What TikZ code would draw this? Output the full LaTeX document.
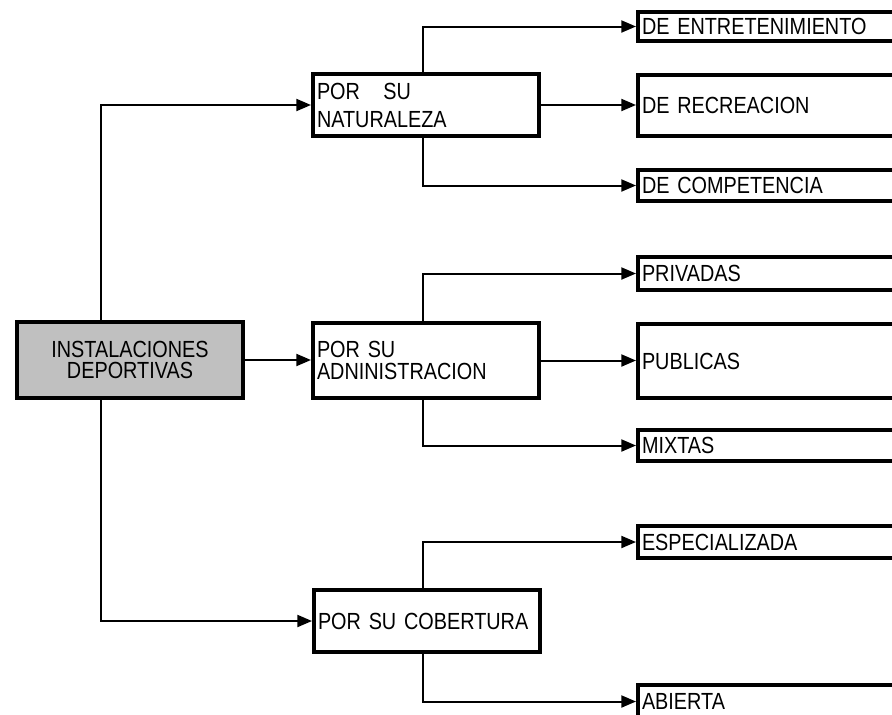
\documentclass[tikz,border=0pt]{standalone}
\usepackage{fontspec}
\setmainfont[FakeStretch=0.85]{Liberation Sans}
\usetikzlibrary{arrows.meta}
\def\pxu{0.75pt}
\tikzset{
  conn/.style={line width=1.5pt, -{Triangle[length=11pt,width=9pt]}},
  boxbase/.style={draw, line width=3pt, inner ysep=0pt, font=\fontsize{17.5}{16.5}\selectfont},
  rootbox/.style={boxbase, fill={rgb,255:red,192;green,192;blue,192}, align=center,
     minimum width={226*\pxu}, minimum height={76*\pxu}, font=\fontsize{17.5}{15.75}\selectfont},
  midbox/.style={boxbase, fill=white, inner xsep={4*\pxu}, text width={218*\pxu}, align=left,
     minimum width={226*\pxu}},
  leafbox/.style={boxbase, fill=white, inner xsep={4*\pxu}, text width={256*\pxu}, align=left,
     minimum width={264*\pxu}, anchor=west},
}
\begin{document}
\begin{tikzpicture}[x=0.75pt, y=-0.75pt]
\useasboundingbox (0,0) rectangle (892,714);
\clip (0,0) rectangle (892,714);

% nodes
\node[rootbox] (root) at (130,360) {INSTALACIONES\\DEPORTIVAS};

\node[midbox, minimum height={62*\pxu}, font=\fontsize{17.5}{21}\selectfont] (nat) at (426,105) {POR \ \ SU\\NATURALEZA};
\node[midbox, minimum height={75*\pxu}] (adm) at (426,360.5) {POR SU\\ADNINISTRACION};
\node[midbox, minimum height={62*\pxu}] (cob) at (427,621) {POR SU COBERTURA};

\node[leafbox, minimum height={29*\pxu}] (ent) at (636,26.5) {DE ENTRETENIMIENTO};
\node[leafbox, minimum height={61*\pxu}] (rec) at (636,105.5) {DE RECREACION};
\node[leafbox, minimum height={31*\pxu}] (comp) at (636,185.5) {DE COMPETENCIA};

\node[leafbox, minimum height={33*\pxu}] (priv) at (636,273.5) {PRIVADAS};
\node[leafbox, minimum height={74*\pxu}] (pub) at (636,361) {PUBLICAS};
\node[leafbox, minimum height={31*\pxu}] (mix) at (636,445.5) {MIXTAS};

\node[leafbox, minimum height={32*\pxu}] (esp) at (636,542) {ESPECIALIZADA};
\node[leafbox, minimum height={33*\pxu}] (abi) at (636,701.5) {ABIERTA};

% trunk
\coordinate (tx) at (101,0);
\coordinate (bx) at (423,0);
\draw[conn] (root.north -| tx) |- (nat.west);
\draw[conn] (root.south -| tx) |- (cob.west);
\draw[conn] (root.east) -- (root.east -| adm.west);

% naturaleza branches
\draw[conn] (nat.north -| bx) |- (ent.west);
\draw[conn] (nat.east) -- (nat.east -| rec.west);
\draw[conn] (nat.south -| bx) |- (comp.west);

% administracion branches
\draw[conn] (adm.north -| bx) |- (priv.west);
\draw[conn] (adm.east) -- (adm.east -| pub.west);
\draw[conn] (adm.south -| bx) |- (mix.west);

% cobertura branches
\draw[conn] (cob.north -| bx) |- (esp.west);
\draw[conn] (cob.south -| bx) |- (abi.west);
\end{tikzpicture}
\end{document}
